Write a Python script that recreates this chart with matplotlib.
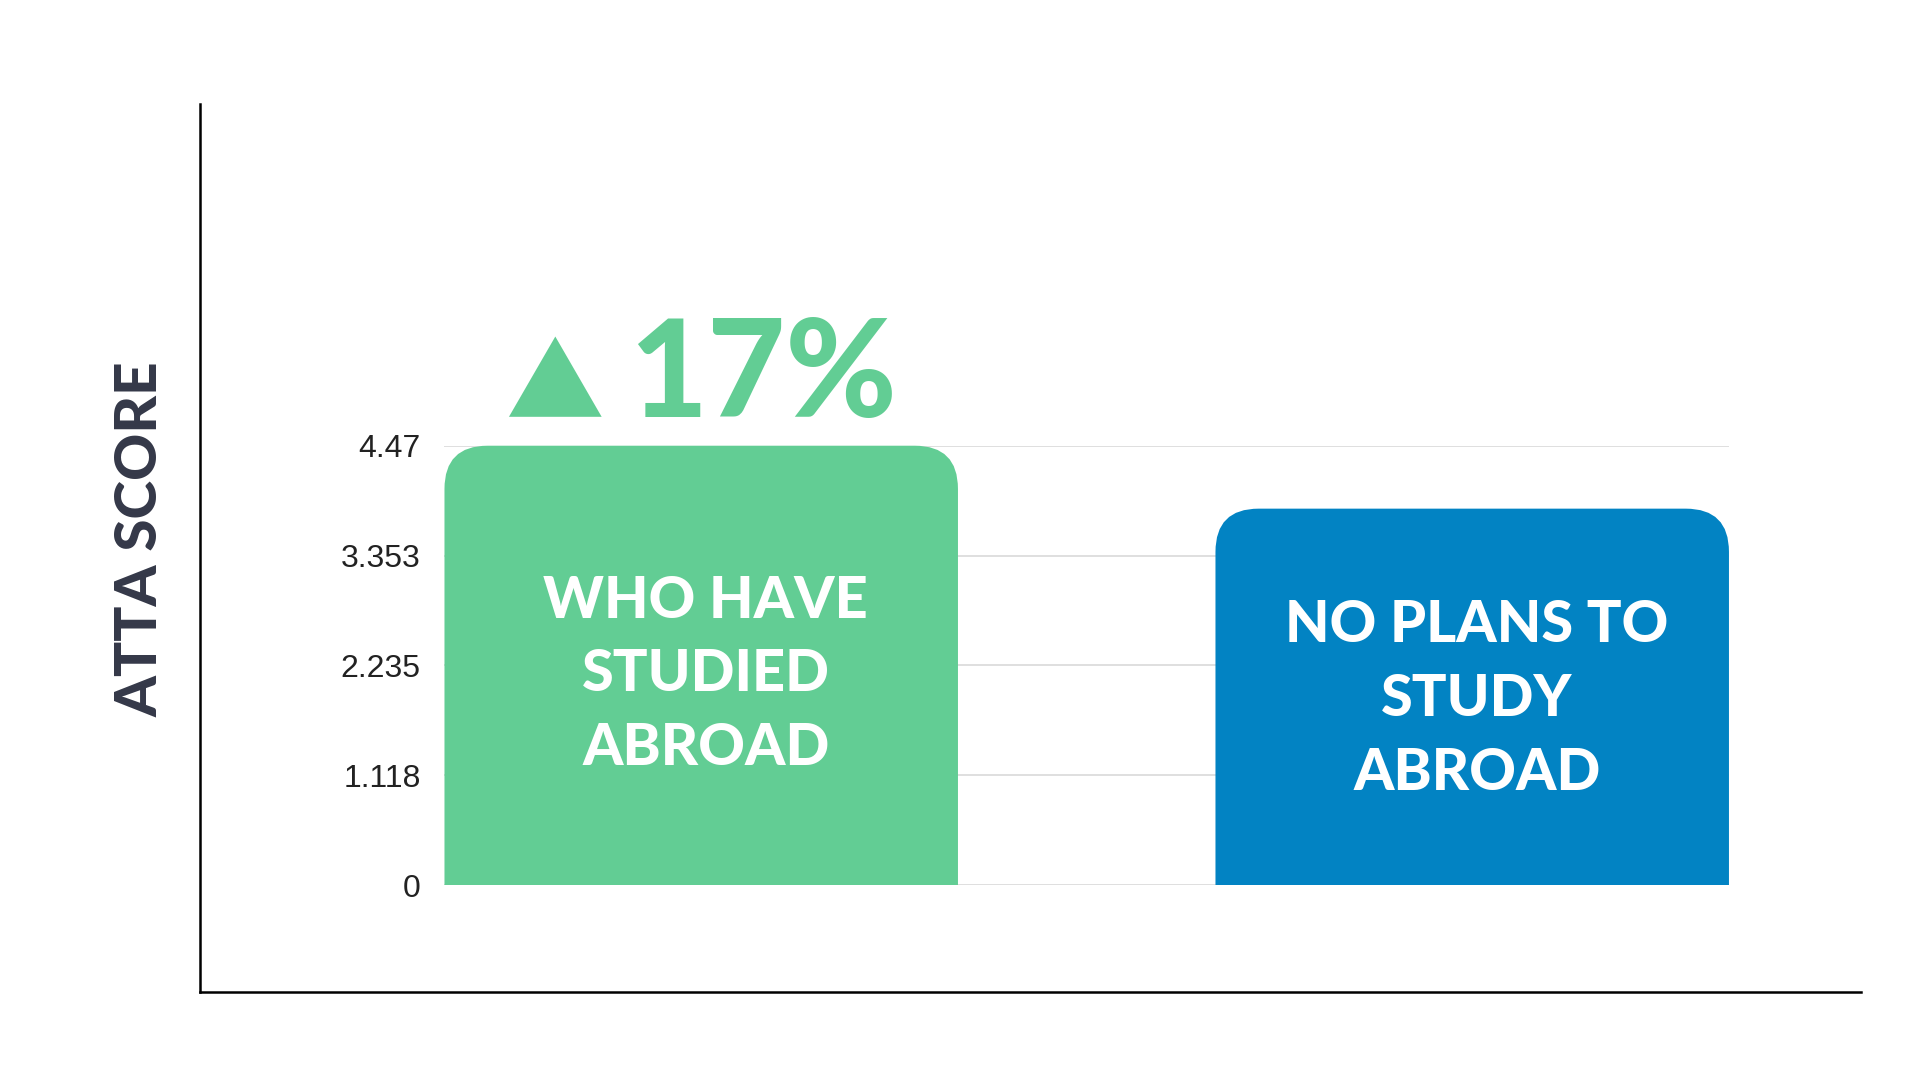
import matplotlib.pyplot as plt
from matplotlib.patches import FancyBboxPatch, Rectangle

# Data
groups = ["WHO HAVE\nSTUDIED\nABROAD", "NO PLANS TO\nSTUDY\nABROAD"]
scores = [4.47, 3.83]
bar_colors = ["#62CD94", "#0283C3"]
tick_values = [0, 1.118, 2.235, 3.353, 4.47]
tick_labels = ["0", "1.118", "2.235", "3.353", "4.47"]
change_label = "17%"

plt.rcParams['font.family'] = ['Lato', 'DejaVu Sans']

fig = plt.figure(figsize=(19.2, 10.8), dpi=100)
ax = fig.add_axes([0.2315, 0.1803, 0.669, 0.407])

width = 0.666
x = range(len(scores))
ax.set_xlim(-width / 2, len(scores) - 1 + width / 2)
ax.set_ylim(0, max(tick_values))

# gridlines
for t in tick_values:
    ax.axhline(t, color="#d9d9d9", lw=1.2, zorder=0)

# rounded-top bars, bottom clipped at zero
clip = Rectangle((-5, 0), 10, 100, transform=ax.transData)
radius = 0.056
aspect = 7.84
for xi, val, col in zip(x, scores, bar_colors):
    patch = FancyBboxPatch((xi - width / 2, -1), width, val + 1,
                           boxstyle=f"round,pad=0,rounding_size={radius}",
                           mutation_aspect=aspect, fc=col, ec="none", zorder=2)
    ax.add_patch(patch)
    patch.set_clip_path(clip)

# labels inside bars
label_frac = [0.479, 0.493]
for xi, val, label, f in zip(x, scores, groups, label_frac):
    ax.text(xi + 0.006, val * f, label, ha="center", va="center", color="white",
            fontsize=41.5, fontweight="black", linespacing=1.48, zorder=3)

ax.set_yticks(tick_values)
ax.set_yticklabels(tick_labels, fontfamily="Liberation Sans", fontsize=23, color="#222222")
ax.tick_params(axis="y", length=0, pad=17)
ax.set_xticks([])
for s in ax.spines.values():
    s.set_visible(False)

# increase annotation above first bar
ax.text(-0.191, 4.47 * 1.062, "\u25B2", ha="center", va="baseline", color=bar_colors[0],
        fontsize=71, fontfamily="Noto Sans CJK SC", zorder=3)
ax.text(-0.093, 4.47 * 1.066, change_label, ha="left", va="baseline", color=bar_colors[0],
        fontsize=97, fontweight="black", zorder=3)

# axis title
fig.text(0.0737, 0.501, "ATTA SCORE", rotation=90, ha="center", va="center",
         color="#343848", fontsize=42, fontweight="black")

# outer L-shaped frame
fig.add_artist(plt.Line2D([0.104, 0.104], [0.0817, 0.9037], color="black", lw=1.8))
fig.add_artist(plt.Line2D([0.104, 0.9694], [0.0817, 0.0817], color="black", lw=1.8))

fig.savefig("out.png", dpi=100, facecolor="white")
